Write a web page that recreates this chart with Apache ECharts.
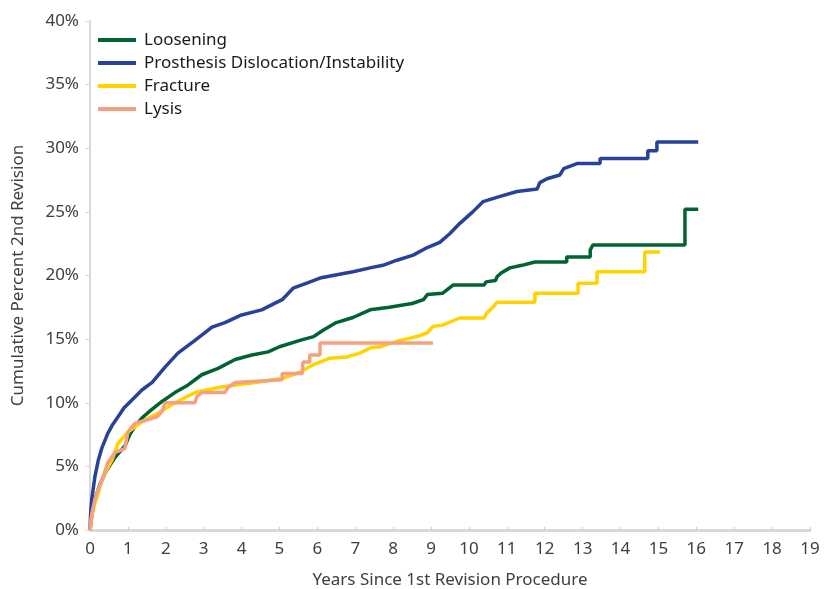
<!DOCTYPE html>
<html>
<head>
<meta charset="utf-8">
<script src="https://cdn.jsdelivr.net/npm/echarts@6/dist/echarts.min.js"></script>
<style>html,body{margin:0;padding:0;background:#fff}#c{width:824px;height:589px}</style>
</head>
<body>
<div id="c"></div>
<script>
const seriesNames = ['Loosening', 'Prosthesis Dislocation/Instability', 'Fracture', 'Lysis'];
const xTicks = [0,1,2,3,4,5,6,7,8,9,10,11,12,13,14,15,16,17,18,19];
const yTicks = [0,5,10,15,20,25,30,35,40];

// [years, cumulative percent] vertices of each curve (step corners included)
const loosening = [[0,0],[0.05,1.2],[0.13,2.4],[0.25,3.5],[0.4,4.5],[0.55,5.2],[0.66,5.7],[0.8,6.2],[0.92,6.6],[1.05,7.5],[1.2,8.2],[1.37,8.8],[1.6,9.4],[1.9,10.1],[2.24,10.8],[2.59,11.4],[2.95,12.2],[3.38,12.7],[3.83,13.4],[4.27,13.75],[4.7,14.0],[5.0,14.4],[5.54,14.9],[5.9,15.2],[6.15,15.7],[6.5,16.3],[6.94,16.7],[7.39,17.3],[7.9,17.5],[8.5,17.8],[8.8,18.1],[8.9,18.5],[9.3,18.6],[9.58,19.25],[10.4,19.25],[10.45,19.5],[10.7,19.6],[10.74,19.9],[10.85,20.2],[11.08,20.6],[11.4,20.8],[11.74,21.06],[12.58,21.06],[12.58,21.45],[13.2,21.45],[13.2,22.0],[13.27,22.4],[15.7,22.4],[15.7,25.2],[16.05,25.2]];
const dislocation = [[0,0],[0.02,1.5],[0.05,2.5],[0.13,4.2],[0.22,5.5],[0.32,6.5],[0.47,7.6],[0.6,8.3],[0.74,8.9],[0.9,9.6],[1.1,10.2],[1.37,11.0],[1.64,11.6],[1.98,12.8],[2.32,13.9],[2.77,14.9],[3.22,15.95],[3.56,16.3],[4.0,16.9],[4.53,17.3],[5.07,18.1],[5.36,19.0],[5.72,19.4],[6.07,19.8],[6.41,20.0],[6.94,20.3],[7.39,20.6],[7.73,20.8],[8.1,21.2],[8.53,21.6],[8.9,22.2],[9.23,22.6],[9.5,23.3],[9.76,24.1],[10.1,25.0],[10.37,25.8],[10.8,26.2],[11.27,26.6],[11.8,26.8],[11.87,27.3],[12.06,27.6],[12.4,27.9],[12.5,28.4],[12.85,28.8],[13.46,28.8],[13.46,29.2],[14.72,29.2],[14.72,29.8],[14.96,29.8],[14.96,30.5],[16.05,30.5]];
const fracture = [[0,0],[0.05,1.2],[0.12,2.0],[0.21,2.8],[0.3,3.8],[0.4,4.5],[0.58,5.5],[0.74,6.8],[1.0,7.7],[1.37,8.5],[1.8,9.2],[2.24,10.0],[2.77,10.8],[3.38,11.2],[3.83,11.4],[4.27,11.55],[5.07,11.9],[5.54,12.4],[5.9,13.0],[6.33,13.5],[6.78,13.6],[7.12,13.9],[7.39,14.3],[7.65,14.4],[8.18,14.9],[8.63,15.2],[8.9,15.5],[9.05,16.0],[9.3,16.1],[9.76,16.66],[10.4,16.66],[10.47,17.05],[10.63,17.5],[10.74,17.9],[11.74,17.9],[11.74,18.6],[12.88,18.6],[12.88,19.4],[13.38,19.4],[13.38,20.3],[14.64,20.3],[14.64,21.85],[15.04,21.85]];
const lysis = [[0,0],[0.05,1.3],[0.13,2.4],[0.22,3.2],[0.32,3.9],[0.47,5.3],[0.66,6.1],[0.92,6.4],[1.0,7.7],[1.19,8.4],[1.45,8.6],[1.77,8.9],[1.9,9.3],[1.98,10.0],[2.77,10.0],[2.82,10.5],[2.95,10.8],[3.56,10.8],[3.64,11.2],[3.83,11.6],[5.07,11.8],[5.07,12.3],[5.6,12.3],[5.62,13.2],[5.8,13.2],[5.8,13.75],[6.07,13.75],[6.07,14.7],[9.05,14.7]];

const colors = ['#006332', '#26429a', '#ffd200', '#f5a080'];
const dataSets = [loosening, dislocation, fracture, lysis];
const font = 'Noto Sans';
const txt = '#404040';

const chart = echarts.init(document.getElementById('c'), null, {renderer: 'canvas'});
chart.setOption({
  animation: false,
  color: colors,
  grid: {left: 90, right: 14, top: 21, bottom: 59, containLabel: false, outerBoundsMode: 'none'},
  legend: {
    orient: 'vertical', left: 93, top: 25,
    itemWidth: 38, itemHeight: 4, itemGap: 3, icon: 'rect',
    textStyle: {fontFamily: font, fontSize: 17, color: '#1a1a1a', padding: [0,0,0,3], lineHeight: 20},
    data: seriesNames
  },
  xAxis: {
    type: 'value', min: 0, max: 19, interval: 1,
    name: 'Years Since 1st Revision Procedure', nameLocation: 'middle', nameGap: 42,
    nameTextStyle: {fontFamily: font, fontSize: 17, color: txt},
    axisLine: {show: true, lineStyle: {color: '#d9d9d9', width: 3}},
    axisTick: {show: true, inside: true, length: 3, lineStyle: {color: '#cccccc'}},
    axisLabel: {fontFamily: font, fontSize: 17, color: txt, margin: 11,
      formatter: v => xTicks.includes(v) ? String(v) : ''},
    splitLine: {show: false}
  },
  yAxis: {
    type: 'value', min: 0, max: 40, interval: 5,
    name: 'Cumulative Percent 2nd Revision', nameLocation: 'middle', nameGap: 63,
    nameTextStyle: {fontFamily: font, fontSize: 17, color: txt},
    axisLine: {show: true, lineStyle: {color: '#d9d9d9', width: 2}},
    axisTick: {show: true, length: 5, lineStyle: {color: '#d9d9d9'}},
    axisLabel: {fontFamily: font, fontSize: 17, color: txt, margin: 11,
      formatter: v => yTicks.includes(v) ? v + '%' : ''},
    splitLine: {show: false}
  },
  series: seriesNames.map((n, i) => ({
    name: n, type: 'line', data: dataSets[i],
    showSymbol: false, symbol: 'none',
    lineStyle: {width: 3.5, color: colors[i]},
    itemStyle: {color: colors[i]}
  }))
});
</script>
</body>
</html>
